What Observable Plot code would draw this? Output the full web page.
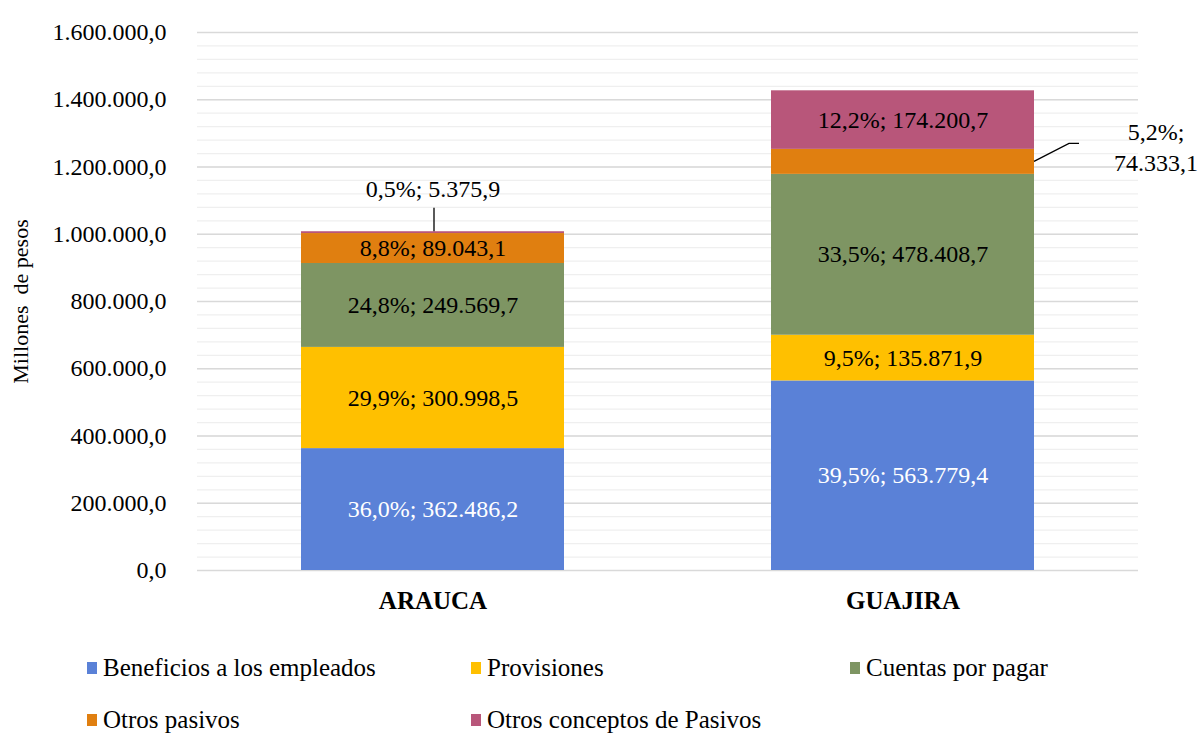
<!DOCTYPE html>
<html>
<head>
<meta charset="utf-8">
<script src="https://cdn.jsdelivr.net/npm/d3@7"></script>
<script src="https://cdn.jsdelivr.net/npm/@observablehq/plot@0.6"></script>
<style>
  body { margin: 0; background: #fff; font-family: 'Liberation Serif', 'Noto Serif', 'DejaVu Serif', 'FreeSerif', 'Nimbus Roman', Tinos, Times, serif; }
  #wrap { position: relative; width: 1204px; height: 736px; }
  .leg { position: absolute; font-size: 25px; color: #000; white-space: nowrap; line-height: 1; }
  .sw { position: absolute; width: 10px; height: 12px; }
  svg text { font-family: 'Liberation Serif', 'Noto Serif', 'DejaVu Serif', 'FreeSerif', 'Nimbus Roman', Tinos, Times, serif; }
</style>
</head>
<body>
<div id="wrap"></div>
<script>
const categories = ["ARAUCA", "GUAJIRA"];
const series = ["Beneficios a los empleados", "Provisiones", "Cuentas por pagar", "Otros pasivos", "Otros conceptos de Pasivos"];
const colors = ["#5A81D7", "#FFC000", "#7E9563", "#E07F10", "#B8567A"];
const araucaValues = [362486.2, 300998.5, 249569.7, 89043.1, 5375.9];
const guajiraValues = [563779.4, 135871.9, 478408.7, 74333.1, 174200.7];
const araucaPct = [36.0, 29.9, 24.8, 8.8, 0.5];
const guajiraPct = [39.5, 9.5, 33.5, 5.2, 12.2];
const yTicks = [0, 200000, 400000, 600000, 800000, 1000000, 1200000, 1400000, 1600000];
const yMinor = d3.range(0, 1600001, 40000);

const loc = d3.formatLocale({decimal: ",", thousands: ".", grouping: [3], currency: ["", ""]});
const fmtNum = loc.format(",.1f");
const fmtPct = loc.format(".1f");

const rows = [];
categories.forEach((cat, ci) => {
  const vals = ci === 0 ? araucaValues : guajiraValues;
  const pcts = ci === 0 ? araucaPct : guajiraPct;
  series.forEach((s, si) => {
    rows.push({cat, series: s, value: vals[si], pct: pcts[si],
      label: fmtPct(pcts[si]) + "%; " + fmtNum(vals[si])});
  });
});

const callouts = new Set(["ARAUCA|Otros conceptos de Pasivos", "GUAJIRA|Otros pasivos"]);
const whiteText = new Set(["Beneficios a los empleados"]);

const stackOpts = {x: "cat", y: "value", z: "series", order: series};

function guajiraLeader(index, scales, values, dims) {
  const x = scales.x;
  const bw = x.bandwidth ? x.bandwidth() : 0;
  const xr = x("GUAJIRA") + bw;
  const lo = guajiraValues.slice(0, 3).reduce((a, b) => a + b, 0);
  const mid = lo + guajiraValues[3] / 2;
  const y0 = scales.y(mid);
  const g = document.createElementNS("http://www.w3.org/2000/svg", "path");
  g.setAttribute("d", `M${xr},${y0}L${xr + 35},${y0 - 18}L${xr + 45},${y0 - 18}`);
  g.setAttribute("stroke", "#000");
  g.setAttribute("fill", "none");
  g.setAttribute("stroke-width", 1.3);
  return g;
}

const araucaTop = araucaValues.reduce((a, b) => a + b, 0);
const guajiraOtrosMid = guajiraValues.slice(0, 3).reduce((a, b) => a + b, 0) + guajiraValues[3] / 2;

const chart = Plot.plot({
  width: 1204,
  height: 640,
  marginLeft: 197,
  marginRight: 66,
  marginTop: 32,
  marginBottom: 70,
  style: {fontSize: "24px", color: "#000", background: "#fff"},
  x: {domain: categories, paddingInner: 0.44, paddingOuter: 0.22, label: null},
  y: {domain: [0, 1600000], label: null},
  color: {domain: series, range: colors},
  marks: [
    Plot.ruleY(yMinor, {stroke: "#efefef", strokeWidth: 1.2}),
    Plot.ruleY(yTicks, {stroke: "#d9d9d9", strokeWidth: 1.3}),
    Plot.axisY({ticks: yTicks, tickFormat: d => fmtNum(d), tickSize: 0, tickPadding: 31, fontSize: 24, label: null}),
    Plot.axisX({tickSize: 0, tickPadding: 21, fontSize: 25, fontWeight: "bold", label: null}),
    Plot.barY(rows, Plot.stackY({...stackOpts, fill: "series"})),
    Plot.text(rows, Plot.stackY({...stackOpts,
      text: d => callouts.has(d.cat + "|" + d.series) ? null : d.label, fontSize: 24,
      fill: d => whiteText.has(d.series) ? "#ffffff" : "#000000"})),
    Plot.text([{cat: "ARAUCA", y: araucaTop}], {x: "cat", y: "y", text: () => fmtPct(araucaPct[4]) + "%; " + fmtNum(araucaValues[4]), dy: -42, fontSize: 24, fill: "#000"}),
    Plot.ruleX([{cat: "ARAUCA", y1: araucaTop, y2: araucaTop + 70000}], {x: "cat", y1: "y1", y2: "y2", dx: 1, stroke: "#000", strokeWidth: 1.3}),
    Plot.text([{cat: "GUAJIRA", y: guajiraOtrosMid}],
      {x: "cat", y: "y", text: () => fmtPct(guajiraPct[3]) + "%;\n" + fmtNum(guajiraValues[3]), dx: 253, dy: -16, lineHeight: 1.3, fontSize: 24, fill: "#000"}),
    guajiraLeader,
    Plot.text(["Millones  de pesos"], {frameAnchor: "left", textAnchor: "middle", rotate: -90, dx: -177, fontSize: 22, fill: "#000"})
  ]
});
chart.style.position = "absolute";
chart.style.left = "0px";
chart.style.top = "0px";
chart.style.overflow = "visible";
const wrap = document.getElementById("wrap");
wrap.appendChild(chart);

const legendPos = [[87, 668], [471, 668], [850, 668], [87, 720], [471, 720]];
series.forEach((s, i) => {
  const [lx, ly] = legendPos[i];
  const sw = document.createElement("div");
  sw.className = "sw";
  sw.style.left = lx + "px";
  sw.style.top = (ly - 6) + "px";
  sw.style.background = colors[i];
  wrap.appendChild(sw);
  const t = document.createElement("div");
  t.className = "leg";
  t.textContent = s;
  t.style.left = (lx + 16) + "px";
  t.style.top = (ly - 13) + "px";
  wrap.appendChild(t);
});
</script>
</body>
</html>
